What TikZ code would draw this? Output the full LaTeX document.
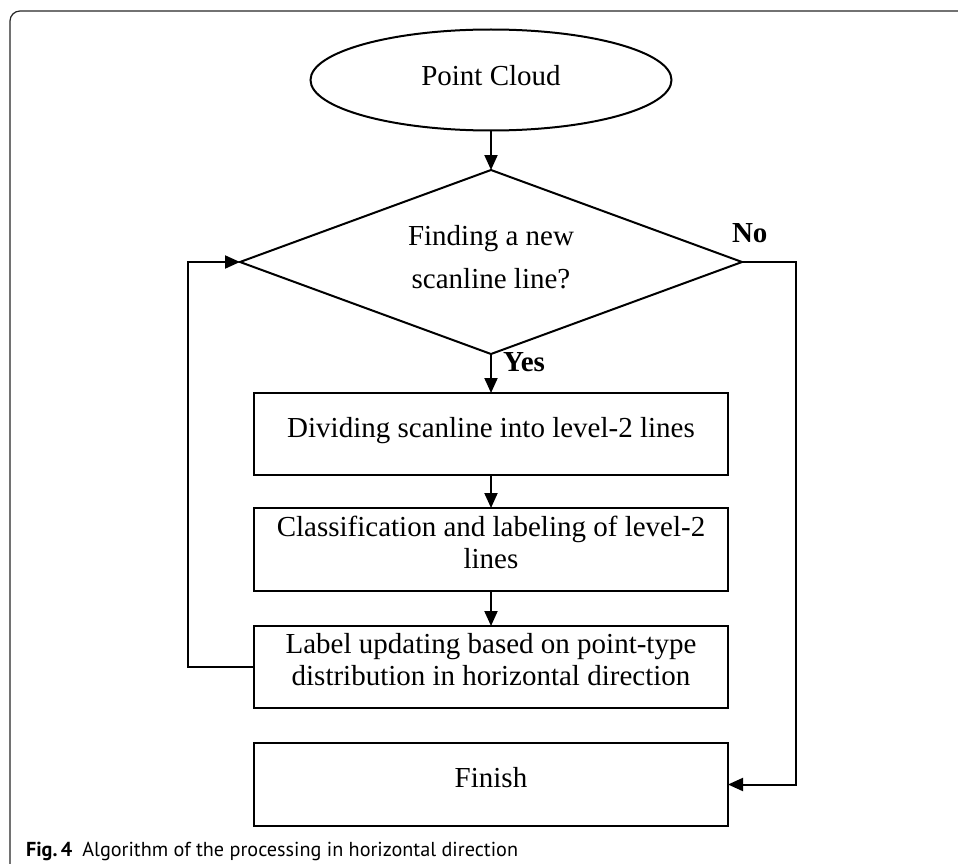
\documentclass[tikz,border=0pt]{standalone}
\usepackage{fontspec}
\setmainfont{Liberation Serif}
\newfontfamily\capfont{PT Sans}
\usetikzlibrary{shapes.geometric,arrows.meta}
\begin{document}
\begin{tikzpicture}[x=1pt,y=-1pt,
  every node/.style={inner sep=0pt, outer sep=0pt},
  shapeline/.style={draw=black, line width=2pt},
  procbox/.style={shapeline, rectangle, minimum width=474pt, minimum height=82pt},
  flow/.style={line width=2pt, -{Triangle[length=15pt,width=13pt]}},
  txt/.style={font=\fontsize{29}{32}\selectfont, align=center},
  dtxt/.style={font=\fontsize{29}{43}\selectfont, align=center},
  yn/.style={font=\fontsize{29}{32}\selectfont\bfseries},
]
\useasboundingbox (0,0) rectangle (958,864);
\draw[line width=1.2pt, color=black!85, rounded corners=10pt] (10,864) -- (10,11) -- (958,11);

% shapes
\node[shapeline, ellipse, minimum width=361pt, minimum height=101pt, txt, text depth=10pt] (pc) at (491,80) {Point Cloud};
\node[shapeline, diamond, shape aspect=2.73, minimum width=502pt, minimum height=184pt] (dec) at (491,262) {};
\node[dtxt, anchor=north] (dect) at (491,225.2) {Finding a new\\scanline line?};
\node[procbox, txt, text depth=14pt] (b1) at (491,434) {Dividing scanline into level-2 lines};
\node[procbox, minimum height=83pt] (b2) at (491,549.5) {};
\node[txt, anchor=north] (b2t) at (491,516.2) {Classification and labeling of level-2\\lines};
\node[procbox] (b3) at (491,667) {};
\node[txt, anchor=north] (b3t) at (491,633.2) {Label updating based on point-type\\distribution in horizontal direction};
\node[procbox, minimum height=83pt, txt, text depth=14pt] (fin) at (491,784.5) {Finish};

% labels
\node[yn, anchor=base west] (no) at (732,242) {No};
\node[yn, anchor=base west] (yes) at (503,371) {Yes};

% connectors
\draw[flow] (pc.south) -- (dec.north);
\draw[flow] (dec.south) -- (b1.north);
\draw[flow] (b1.south) -- (b2.north);
\draw[flow] (b2.south) -- (b3.north);
\draw[flow] (b3.west) -- ++(-66,0) |- (dec.west);
\draw[flow] (dec.east) -- ++(54,0) |- (fin.east);

% caption
\node[anchor=base west, font=\capfont\fontsize{20.2}{22}\selectfont] (cap) at (26,856)
  {\textbf{Fig.\,4}\hspace{10pt}Algorithm of the processing in horizontal direction};
\end{tikzpicture}
\end{document}
